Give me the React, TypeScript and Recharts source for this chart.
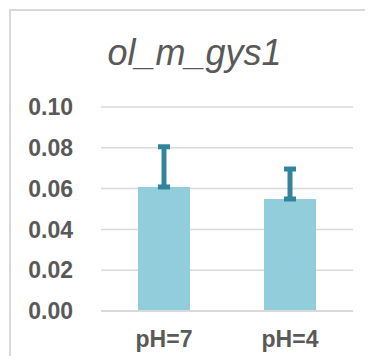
import React from 'react'
import { BarChart, Bar, ErrorBar, XAxis, YAxis, CartesianGrid } from 'recharts'

const categories = ['pH=7', 'pH=4']
const means = [0.0608, 0.0549]
const upperErrors = [0.0197, 0.0147]
const yTicks = [0, 0.02, 0.04, 0.06, 0.08, 0.1]
const edgeTicks = [0, 1, 2]

const data = categories.map((name, i) => ({
  name,
  value: means[i],
  err: [0, upperErrors[i]],
}))

const FONT = '"Liberation Sans", Arial, sans-serif'
const GRAY = '#595959'
const LINE = '#D9D9D9'

export default function App() {
  return (
    <div style={{ position: 'relative', width: 357, height: 348 }}>
      <div
        style={{
          position: 'absolute',
          left: 1,
          top: 1,
          width: 356,
          height: 347,
          borderLeft: `2px solid ${LINE}`,
          borderTop: `2px solid ${LINE}`,
          boxSizing: 'border-box',
        }}
      />
      <svg width={357} height={80} style={{ position: 'absolute', left: 0, top: 0 }}>
        <text
          x={186.5}
          y={57}
          textAnchor="middle"
          fontFamily={FONT}
          fontStyle="italic"
          fontSize={36}
          fill={GRAY}
        >
          ol_m_gys1
        </text>
      </svg>
      <div style={{ position: 'absolute', left: 0, top: 0 }}>
        <BarChart width={357} height={348} data={data} margin={{ top: 99, right: 12, bottom: 24, left: 0 }}>
          <CartesianGrid vertical={false} stroke={LINE} strokeWidth={1.5} />
          <XAxis
            xAxisId="edges"
            type="number"
            domain={[0, 2]}
            ticks={edgeTicks}
            tick={false}
            tickSize={7}
            tickLine={{ stroke: LINE, strokeWidth: 1.5 }}
            axisLine={false}
            height={0}
          />
          <XAxis
            dataKey="name"
            tickLine={false}
            axisLine={{ stroke: LINE, strokeWidth: 2 }}
            tickSize={0}
            tickMargin={20}
            tick={{ fill: GRAY, fontSize: 23, fontWeight: 'bold', fontFamily: FONT }}
            height={21}
          />
          <YAxis
            domain={[0, 0.1]}
            ticks={yTicks}
            tickFormatter={(v: number) => v.toFixed(2)}
            axisLine={false}
            tickLine={false}
            tickSize={0}
            tickMargin={28}
            width={93}
            tick={{ fill: GRAY, fontSize: 23, fontWeight: 'bold', fontFamily: FONT }}
          />
          <Bar dataKey="value" fill="#92CDDC" barSize={52} isAnimationActive={false}>
            <ErrorBar dataKey="err" direction="y" width={6} stroke="#31849B" strokeWidth={5} />
          </Bar>
        </BarChart>
      </div>
    </div>
  )
}
